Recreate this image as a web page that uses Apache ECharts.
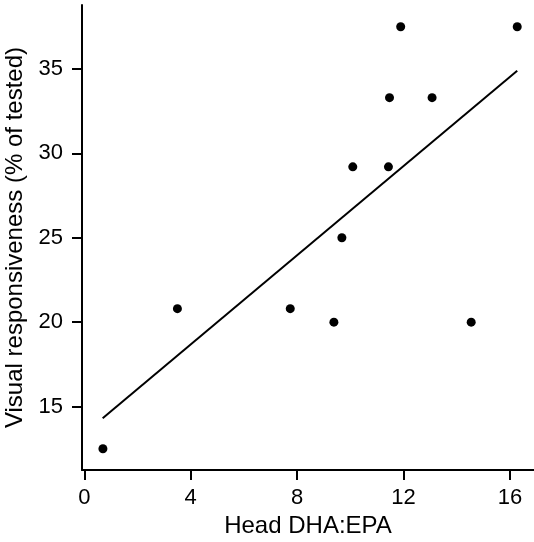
<!DOCTYPE html>
<html>
<head>
<meta charset="utf-8">
<script src="https://cdn.jsdelivr.net/npm/echarts@6/dist/echarts.min.js"></script>
<style>
html,body{margin:0;padding:0;background:#fff;}
#chart{width:534px;height:542px;}
</style>
</head>
<body>
<div id="chart"></div>
<script>
// Data
const headDhaEpa = [0.7, 3.5, 7.74, 9.38, 9.68, 10.09, 11.43, 11.47, 11.89, 13.07, 14.54, 16.27];
const responsiveness = [12.5, 20.8, 20.8, 20.0, 25.0, 29.2, 29.2, 33.3, 37.5, 33.3, 20.0, 37.5];
const fitX = [0.69, 16.27];
const fitY = [14.31, 34.9];
const xTicks = [0, 4, 8, 12, 16];
const yTicks = [15, 20, 25, 30, 35];
const xName = 'Head DHA:EPA';
const yName = 'Visual responsiveness (% of tested)';

const points = headDhaEpa.map((x, i) => [x, responsiveness[i]]);
const fitLine = fitX.map((x, i) => [x, fitY[i]]);

const font = '"Liberation Sans", Arial, sans-serif';
const chart = echarts.init(document.getElementById('chart'), null, {renderer: 'canvas'});
chart.setOption({
  animation: false,
  backgroundColor: '#fff',
  grid: {left: 82, right: 0, top: 5, bottom: 72, containLabel: false, outerBoundsMode: 'none'},
  xAxis: {
    type: 'value',
    min: -0.086, max: 16.9,
    splitLine: {show: false},
    axisLine: {show: true, onZero: false, lineStyle: {color: '#000', width: 2}},
    axisTick: {show: true, length: 10, lineStyle: {color: '#000', width: 2}, customValues: xTicks},
    axisLabel: {color: '#000', fontSize: 22, fontFamily: font, margin: 17, customValues: xTicks},
    name: xName,
    nameLocation: 'middle',
    nameGap: 41,
    nameTextStyle: {color: '#000', fontSize: 24, fontFamily: font}
  },
  yAxis: {
    type: 'value',
    min: 11.24, max: 38.79,
    splitLine: {show: false},
    axisLine: {show: true, onZero: false, lineStyle: {color: '#000', width: 2}},
    axisTick: {show: true, length: 10, lineStyle: {color: '#000', width: 2}, customValues: yTicks},
    axisLabel: {color: '#000', fontSize: 22, fontFamily: font, margin: 19, customValues: yTicks},
    name: yName,
    nameLocation: 'middle',
    nameGap: 51,
    nameTextStyle: {color: '#000', fontSize: 24, fontFamily: font}
  },
  series: [
    {
      type: 'scatter',
      data: points,
      symbol: 'circle',
      symbolSize: 9,
      itemStyle: {color: '#000', opacity: 1},
      z: 3
    },
    {
      type: 'line',
      data: fitLine,
      showSymbol: false,
      symbol: 'none',
      lineStyle: {color: '#000', width: 2},
      z: 2
    }
  ]
});
</script>
</body>
</html>
